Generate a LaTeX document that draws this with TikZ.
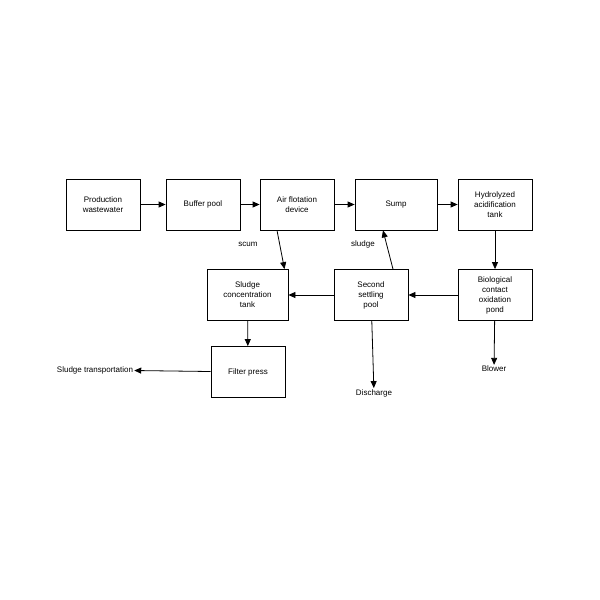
\documentclass[tikz,border=0pt]{standalone}
\usepackage{fontspec}
\setmainfont{Liberation Sans}
\usetikzlibrary{arrows.meta}
\begin{document}
\begin{tikzpicture}[x=1pt,y=-1pt,
  box/.style={draw,thick,minimum width=74pt,minimum height=51pt,align=center,inner sep=1pt,font=\fontsize{8}{10}\selectfont},
  lbl/.style={inner sep=1pt,font=\fontsize{8}{10}\selectfont},
  flow/.style={thick,-{Triangle[length=7pt,width=6pt]}}]
\useasboundingbox (0,0) rectangle (600,600);
\node[box] (prod) at (103,204.5) {Production\\wastewater};
\node[box] (buf) at (203,204.5) {Buffer pool};
\node[box] (air) at (297,204.5) {Air flotation\\device};
\node[box,minimum width=82pt] (sump) at (396,204.5) {Sump};
\node[box] (hyd) at (495,204.5) {Hydrolyzed\\acidification\\tank};
\node[box,minimum width=81pt] (conc) at (247.5,295) {Sludge\\concentration\\tank};
\node[box] (sec) at (371,295) {Second\\settling\\pool};
\node[box] (bio) at (495,295) {Biological\\contact\\oxidation\\pond};
\node[box] (filt) at (248,372) {Filter press};
\node[lbl] (trans) at (95,370) {Sludge transportation};
\node[lbl] (dis) at (374,393) {Discharge};
\node[lbl] (blow) at (494,369) {Blower};
\node[lbl] (scum) at (248,244) {scum};
\node[lbl] (sl) at (363,244) {sludge};
\draw[flow] (prod) -- (buf);
\draw[flow] (buf) -- (air);
\draw[flow] (air) -- (sump);
\draw[flow] (sump) -- (hyd);
\draw[flow] (hyd) -- (bio);
\draw[flow] (bio) -- (sec);
\draw[flow] (sec) -- (conc);
\draw[flow] (air.south)++(-20,0) -- ([xshift=37pt]conc.north);
\draw[flow] ([xshift=22pt]sec.north) -- ([xshift=-13pt]sump.south);
\draw[flow] (sec) -- (dis);
\draw[flow] (bio) -- (blow);
\draw[flow] (conc) -- (filt);
\draw[flow] (filt) -- (trans);
\end{tikzpicture}
\end{document}
